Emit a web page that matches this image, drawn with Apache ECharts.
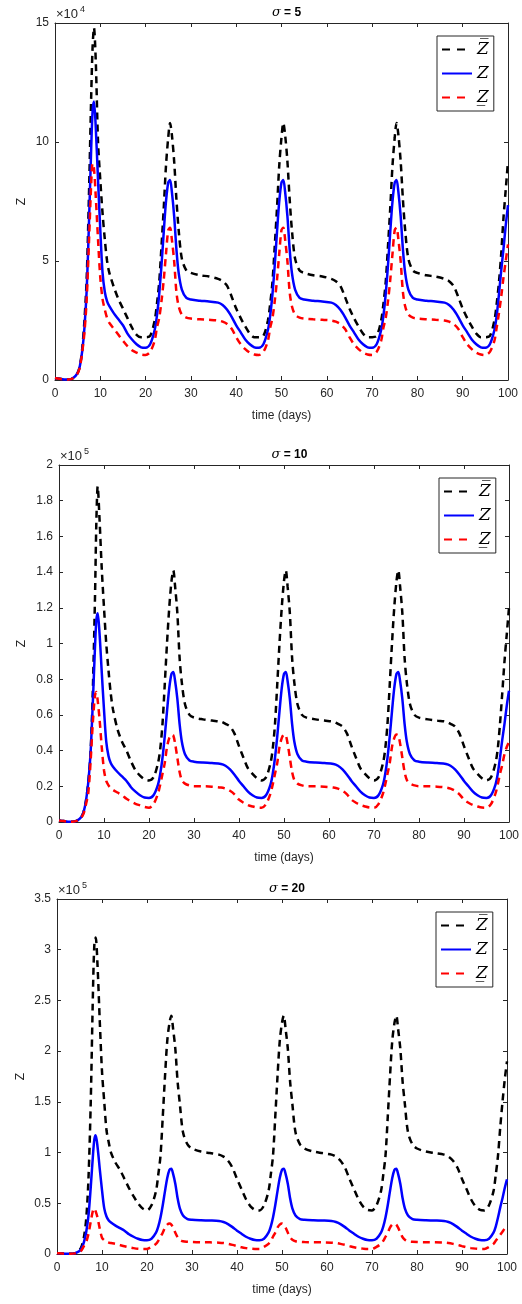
<!DOCTYPE html>
<html>
<head>
<meta charset="utf-8">
<script src="https://cdn.jsdelivr.net/npm/echarts@6/dist/echarts.min.js"></script>
<style>
html, body { margin: 0; padding: 0; background: #fff; }
#chart { width: 522px; height: 1304px; }
</style>
</head>
<body>
<div id="chart"></div>
<script>
// time grid (days)
const days = [0,1,2,3,4,5,5.5,6,6.5,7,7.5,8,8.3,8.6,9,9.5,10,10.5,11,11.5,12,13,14,15,16,17,18,19,20,
  21,22,22.5,23,23.5,24,24.5,25,25.4,25.8,26.3,26.8,27.3,28,29,30,32,34,36,37,38,39,40,41,42,43,44,45,
  46,47,47.5,48,48.5,49,49.5,50,50.4,50.8,51.3,51.8,52.3,53,54,55,57,59,61,62,63,64,65,66,67,68,69,70,
  71,72,72.5,73,73.5,74,74.5,75,75.4,75.8,76.3,76.8,77.3,78,79,80,82,84,86,87,88,89,90,91,92,93,94,95,
  96,97,97.5,98,98.5,99,99.5,100];

// Z (same curve in all three panels)
const zMid = [800,500,200,200,800,3000,6000,12000,22000,38000,66000,98000,113000,117000,106000,84000,63000,45000,37000,33000,31000,28000,25500,23000,19500,17000,15000,13700,13500,
  15000,21000,27000,36000,48000,62000,75000,83000,84000,79000,69000,55000,45000,38000,34500,33800,33300,33000,32500,31500,29500,26500,23000,20000,17000,15000,13700,13500,
  15000,21000,27000,36000,48000,62000,75000,83000,84000,79000,69000,55000,45000,38000,34500,33800,33300,33000,32500,31500,29500,26500,23000,20000,17000,15000,13700,13500,
  15000,21000,27000,36000,48000,62000,75000,83000,84000,79000,69000,55000,45000,38000,34500,33800,33300,33000,32500,31500,29500,26500,23000,20000,17000,15000,13700,13500,
  15000,21000,27000,36000,46000,55000,65000,73500];

// sigma = 5
const zUpper5 = [800,500,200,200,800,3000,6000,13000,25000,43000,78000,120000,140000,148000,134000,100000,84000,70000,59000,50000,45000,39000,34000,30000,26000,22000,19000,18000,18000,
  18500,25000,32000,41000,56000,72000,90000,102000,108000,103000,92000,76000,63000,51000,46000,45000,44000,43500,42500,41500,39500,35000,30000,26000,22500,19500,18000,18000,
  18500,25000,32000,41000,56000,72000,90000,102000,108000,103000,92000,76000,63000,51000,46000,45000,44000,43500,42500,41500,39500,35000,30000,26000,22500,19500,18000,18000,
  18500,25000,32000,41000,56000,72000,90000,102000,108000,103000,92000,76000,63000,51000,46000,45000,44000,43500,42500,41500,39500,35000,30000,26000,22500,19500,18000,18000,
  18500,25000,32000,41000,53000,68000,80000,92000];
const zLower5 = [800,500,200,200,700,2800,5500,11500,20000,34000,58000,83000,91000,89000,77000,59000,43000,34000,29500,26000,24000,21500,19000,16500,14200,12500,11500,10700,10500,
  11800,16500,22000,26000,33000,42000,53000,63000,64000,59000,50000,37000,31000,27500,26200,25800,25500,25300,25000,24500,23500,21500,18000,15000,13000,11500,10700,10500,
  11800,16500,22000,26000,33000,42000,53000,63000,64000,59000,50000,37000,31000,27500,26200,25800,25500,25300,25000,24500,23500,21500,18000,15000,13000,11500,10700,10500,
  11800,16500,22000,26000,33000,42000,53000,63000,64000,59000,50000,37000,31000,27500,26200,25800,25500,25300,25000,24500,23500,21500,18000,15000,13000,11500,10700,10500,
  11800,16500,22000,28000,35000,43000,50000,57000];

// sigma = 10
const zUpper10 = [800,500,200,200,800,3000,6000,12000,22000,38000,72000,126000,168000,188000,170000,142000,120000,100000,85000,72000,63000,52000,45000,40000,34000,29000,26000,24000,23300,
  25000,33000,41000,55000,77000,100000,120000,135000,141000,132000,117000,92000,78000,66000,60000,58500,57500,56800,56200,55000,53500,49500,42500,36000,30000,27000,24500,23300,
  25000,33000,41000,55000,77000,100000,120000,135000,141000,132000,117000,92000,78000,66000,60000,58500,57500,56800,56200,55000,53500,49500,42500,36000,30000,27000,24500,23300,
  25000,33000,41000,55000,77000,100000,120000,135000,141000,132000,117000,92000,78000,66000,60000,58500,57500,56800,56200,55000,53500,49500,42500,36000,30000,27000,24500,23300,
  25000,33000,41000,55000,72000,90000,105000,120000];
const zLower10 = [800,500,200,200,700,2700,5000,10000,16000,33000,55000,71000,72800,68000,58000,42000,29000,23000,20500,19000,18000,16500,15000,13000,11500,10200,9300,8400,8000,
  10000,16000,21000,27000,33000,42000,47000,49000,48500,44000,36000,28000,23500,21500,20500,20000,20000,19800,19300,18700,17500,15500,12500,10800,9500,8700,8100,8000,
  10000,16000,21000,27000,33000,42000,47000,49000,48500,44000,36000,28000,23500,21500,20500,20000,20000,19800,19300,18700,17500,15500,12500,10800,9500,8700,8100,8000,
  10000,16000,21000,27000,33000,42000,47000,49000,48500,44000,36000,28000,23500,21500,20500,20000,20000,19800,19300,18700,17500,15500,12500,10800,9500,8700,8100,8000,
  10000,16000,21000,27000,32000,38000,42000,45000];

// sigma = 20
const zUpper20 = [800,500,200,200,800,4000,8000,17000,35000,75000,150000,260000,305000,312000,285000,230000,180000,150000,122000,110000,100000,90000,83000,74000,65000,57000,50000,45000,43000,
  48000,62000,78000,97000,135000,175000,210000,228000,235000,222000,202000,170000,148000,120000,108000,104000,101000,99500,98000,96000,92000,85000,74000,64000,54000,47000,43500,43000,
  48000,62000,78000,97000,135000,175000,210000,228000,235000,222000,202000,170000,148000,120000,108000,104000,101000,99500,98000,96000,92000,85000,74000,64000,54000,47000,43500,43000,
  48000,62000,78000,97000,135000,175000,210000,228000,235000,222000,202000,170000,148000,120000,108000,104000,101000,99500,98000,96000,92000,85000,74000,64000,54000,47000,43500,43000,
  48000,62000,78000,97000,125000,150000,172000,190000];
const zLower20 = [800,500,200,200,600,2000,4000,8000,12000,20000,32000,43000,45000,42000,36000,25000,16000,13500,12000,11200,10800,10000,8800,7600,6600,5800,5200,5000,5000,
  7000,10000,13000,17000,21000,26000,29000,30000,29000,26000,21000,16500,14000,12500,12000,11800,11600,11500,11200,10800,10000,9000,7800,6600,5800,5300,5000,5000,
  7000,10000,13000,17000,21000,26000,29000,30000,29000,26000,21000,16500,14000,12500,12000,11800,11600,11500,11200,10800,10000,9000,7800,6600,5800,5300,5000,5000,
  7000,10000,13000,17000,21000,26000,29000,30000,29000,26000,21000,16500,14000,12500,12000,11800,11600,11500,11200,10800,10000,9000,7800,6600,5800,5300,5000,5000,
  7000,10000,13000,16000,19000,22000,25000,27000];

const sigmas = [5, 10, 20];
const upperSets = [zUpper5, zUpper10, zUpper20];
const lowerSets = [zLower5, zLower10, zLower20];
const yMaxes = [150000, 200000, 350000];
const ySteps = [50000, 20000, 50000];
const yExponents = [4, 5, 5];

const names = ['Z\u0305', 'Z', 'Z\u0332'];

// panel boxes in px
const boxes = [
  { left: 55, top: 23, width: 453, height: 357, zGap: 27 },
  { left: 59, top: 465, width: 451, height: 357, zGap: 31 },
  { left: 57, top: 899, width: 450, height: 355, zGap: 30 }
];

const axisColor = '#262626';
const font = 'Liberation Sans, Arial, sans-serif';

const chart = echarts.init(document.getElementById('chart'));

const grid = [], xAxis = [], yAxis = [], series = [], legend = [], title = [], graphic = [];

const pairs = values => days.map((d, i) => [d, values[i]]);

boxes.forEach((b, p) => {
  grid.push({ left: b.left, top: b.top, width: b.width, height: b.height, containLabel: false });

  const tickStyle = { show: true, inside: true, length: 4, lineStyle: { color: axisColor, width: 1 } };
  const lineStyle = { show: true, onZero: false, lineStyle: { color: axisColor, width: 1 } };

  // bottom + top x axes
  xAxis.push({
    type: 'value', gridIndex: p, min: 0, max: 100, interval: 10, position: 'bottom',
    axisLine: lineStyle, axisTick: tickStyle, splitLine: { show: false },
    axisLabel: { color: axisColor, fontSize: 12, fontFamily: font, margin: 8 },
    name: 'time (days)', nameLocation: 'middle', nameGap: 30,
    nameTextStyle: { color: axisColor, fontSize: 12, fontFamily: font }
  });
  xAxis.push({
    type: 'value', gridIndex: p, min: 0, max: 100, interval: 10, position: 'top',
    axisLine: lineStyle, axisTick: tickStyle, splitLine: { show: false }, axisLabel: { show: false }
  });

  // left + right y axes
  const scale = Math.pow(10, yExponents[p]);
  yAxis.push({
    type: 'value', gridIndex: p, min: 0, max: yMaxes[p], interval: ySteps[p], position: 'left',
    axisLine: lineStyle, axisTick: tickStyle, splitLine: { show: false },
    axisLabel: {
      color: axisColor, fontSize: 12, fontFamily: font, margin: 6,
      formatter: v => String(+(v / scale).toFixed(1))
    },
    name: 'Z', nameLocation: 'middle', nameGap: b.zGap, nameMoveOverlap: false,
    nameTextStyle: { color: axisColor, fontSize: 12, fontFamily: font }
  });
  yAxis.push({
    type: 'value', gridIndex: p, min: 0, max: yMaxes[p], interval: ySteps[p], position: 'right',
    axisLine: lineStyle, axisTick: tickStyle, splitLine: { show: false }, axisLabel: { show: false }
  });

  const common = {
    type: 'line', xAxisIndex: p * 2, yAxisIndex: p * 2, showSymbol: false, symbol: 'none',
    smooth: 0.3, animation: false
  };
  series.push({ ...common, name: names[0], data: pairs(upperSets[p]),
    lineStyle: { color: '#000', width: 2.5, type: [7, 5] }, itemStyle: { color: '#000' } });
  series.push({ ...common, name: names[1], data: pairs(zMid),
    lineStyle: { color: '#0000ff', width: 2.5, type: 'solid' }, itemStyle: { color: '#0000ff' } });
  series.push({ ...common, name: names[2], data: pairs(lowerSets[p]),
    lineStyle: { color: '#ff0000', width: 2.5, type: [7, 5] }, itemStyle: { color: '#ff0000' } });

  legend.push({
    data: [
      { name: names[0], lineStyle: { type: [8, 7] } },
      { name: names[1], lineStyle: { type: 'solid' } },
      { name: names[2], lineStyle: { type: [8, 7] } }
    ],
    orient: 'vertical',
    left: b.left + b.width - 71, top: b.top + 13,
    itemWidth: 30, itemHeight: 14, itemGap: 7,
    padding: [5, 5, 5, 4],
    backgroundColor: '#fff', borderColor: axisColor, borderWidth: 1, borderRadius: 0,
    selectedMode: false,
    itemStyle: { opacity: 0 },
    textStyle: { color: '#000', fontSize: 17, fontFamily: 'DejaVu Serif, serif', fontStyle: 'italic' }
  });

  title.push({
    text: '{s|σ} = ' + sigmas[p],
    left: b.left + b.width / 2, top: b.top - 22, textAlign: 'center',
    textStyle: {
      color: '#000', fontSize: 12, fontWeight: 'bold', fontFamily: font,
      rich: { s: { fontSize: 13, fontStyle: 'italic', fontWeight: 'normal', fontFamily: 'DejaVu Serif, serif' } }
    }
  });

  // exponent label "×10^n"
  graphic.push({
    type: 'text', left: b.left + 1, top: b.top - 15,
    style: { text: '×10', fill: axisColor, fontSize: 13, fontFamily: font }
  });
  graphic.push({
    type: 'text', left: b.left + 25, top: b.top - 18,
    style: { text: String(yExponents[p]), fill: axisColor, fontSize: 9, fontFamily: font }
  });
});

chart.setOption({
  animation: false,
  backgroundColor: '#fff',
  grid, xAxis, yAxis, series, legend, title, graphic
});
</script>
</body>
</html>
